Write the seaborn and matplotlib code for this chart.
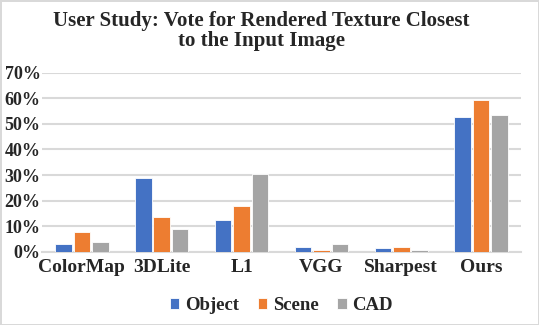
import matplotlib
matplotlib.use("Agg")
import matplotlib.pyplot as plt
import seaborn as sns
import pandas as pd
from matplotlib.ticker import PercentFormatter

methods = ["ColorMap", "3DLite", "L1", "VGG", "Sharpest", "Ours"]
object_votes = [3.0, 28.8, 12.4, 1.8, 1.3, 52.7]
scene_votes = [7.7, 13.6, 17.7, 0.7, 1.8, 59.3]
cad_votes = [3.7, 8.9, 30.5, 3.0, 0.7, 53.4]
series = ["Object", "Scene", "CAD"]
colors = ["#4472C4", "#ED7D31", "#A5A5A5"]

rows = []
for name, vals in zip(series, [object_votes, scene_votes, cad_votes]):
    for m, v in zip(methods, vals):
        rows.append({"method": m, "series": name, "vote": v})
df = pd.DataFrame(rows)

sns.set_style("white")
plt.rcParams["font.family"] = ["Liberation Serif", "DejaVu Serif"]
plt.rcParams["font.weight"] = "bold"

fig = plt.figure(figsize=(5.39, 3.25), dpi=100)
fig.patch.set_edgecolor("#d9d9d9")
fig.patch.set_linewidth(2)
ax = fig.add_axes([0.0779, 0.2255, 0.8887, 0.5505])

sns.barplot(data=df, x="method", y="vote", hue="series", palette=colors,
            saturation=1, width=0.69, gap=0.1, linewidth=0.6, edgecolor="white",
            ax=ax, legend=True, zorder=3)

ax.set_ylim(0, 70)
ax.set_yticks(range(0, 71, 10))
ax.yaxis.set_major_formatter(PercentFormatter(decimals=0))
ax.grid(axis="y", color="#d9d9d9", linewidth=1.5, zorder=0)
ax.set_axisbelow(True)
for s in ["top", "right", "left"]:
    ax.spines[s].set_visible(False)
ax.spines["bottom"].set_color("#d9d9d9")
ax.spines["bottom"].set_linewidth(1.5)
ax.set_xlabel("")
ax.set_ylabel("")
ax.tick_params(axis="x", length=0, labelsize=14, pad=5)
ax.tick_params(axis="y", length=0, labelsize=13, pad=1)
for lab in ax.get_xticklabels() + ax.get_yticklabels():
    lab.set_fontweight("bold")

ax.legend(loc="upper center", bbox_to_anchor=(0.5, -0.16), ncol=3, frameon=False,
          handlelength=0.5, handleheight=0.5, handletextpad=0.3,
          columnspacing=1.0, prop={"weight": "bold", "size": 13.5})

fig.suptitle("User Study: Vote for Rendered Texture Closest\nto the Input Image",
             fontsize=15, fontweight="bold", x=0.485, y=0.965, linespacing=1.0)

fig.savefig("out.png", dpi=100)
